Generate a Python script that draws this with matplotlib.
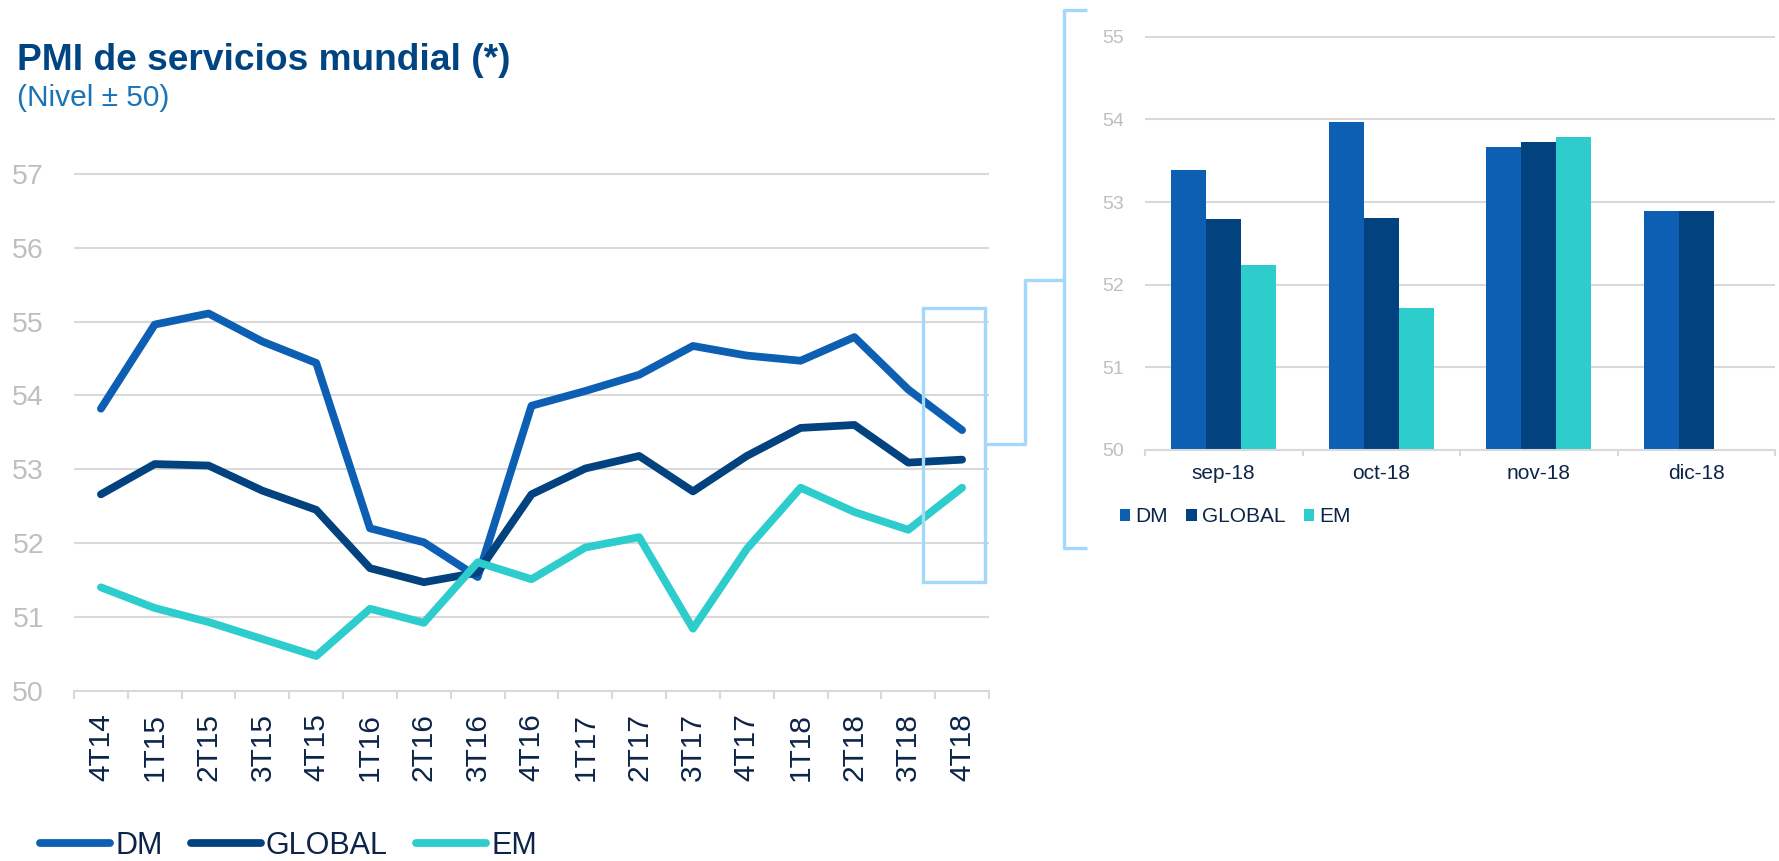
import matplotlib
matplotlib.use("Agg")
import matplotlib.pyplot as plt
import numpy as np
from matplotlib.lines import Line2D
from matplotlib.patches import Rectangle

plt.rcParams['font.family'] = ['Liberation Sans', 'DejaVu Sans']
plt.rcParams['lines.solid_capstyle'] = 'round'

# datos trimestrales (nivel PMI)
trimestres = ['4T14', '1T15', '2T15', '3T15', '4T15', '1T16', '2T16', '3T16', '4T16',
              '1T17', '2T17', '3T17', '4T17', '1T18', '2T18', '3T18', '4T18']
dm = [53.82, 54.96, 55.11, 54.73, 54.44, 52.20, 52.01, 51.54, 53.86,
      54.06, 54.28, 54.67, 54.54, 54.47, 54.79, 54.08, 53.53]
global_ = [52.66, 53.07, 53.05, 52.71, 52.45, 51.66, 51.47, 51.60, 52.66,
           53.01, 53.18, 52.70, 53.18, 53.56, 53.60, 53.09, 53.13]
em = [51.40, 51.12, 50.93, 50.70, 50.47, 51.11, 50.92, 51.74, 51.51,
      51.94, 52.08, 50.84, 51.92, 52.75, 52.42, 52.18, 52.75]

# datos mensuales (detalle)
meses = ['sep-18', 'oct-18', 'nov-18', 'dic-18']
dm_mes = [53.39, 53.97, 53.67, 52.89]
global_mes = [52.80, 52.81, 53.73, 52.89]
em_mes = [52.24, 51.72, 53.79, np.nan]

C_DM = '#0c5fb3'
C_GL = '#02437f'
C_EM = '#2dcccd'
C_GRID = '#d9d9d9'
C_TICK = '#bfbfbf'
C_NAVY = '#0c2448'
C_BRK = '#a3d8fb'

W, H = 1779, 861
fig = plt.figure(figsize=(W / 100, H / 100), dpi=100)


def px(x, y):
    return x / W, 1 - y / H


# ---- grafico de lineas ----
ax = fig.add_axes([74 / W, 1 - 690.7 / H, (989 - 74) / W, (690.7 - 159.2) / H])
x = np.arange(len(trimestres))
for serie, col, lab in [(dm, C_DM, 'DM'), (global_, C_GL, 'GLOBAL'), (em, C_EM, 'EM')]:
    ax.plot(x, serie, color=col, lw=5.6, label=lab, solid_joinstyle='round')
ax.set_xlim(-0.5, len(trimestres) - 0.5)
ax.set_ylim(50, 57.2)
ax.set_yticks(range(50, 58))
ax.yaxis.grid(True, color=C_GRID, lw=1.5)
ax.set_axisbelow(True)
for s in ['top', 'right', 'left']:
    ax.spines[s].set_visible(False)
ax.spines['bottom'].set_color(C_GRID)
ax.spines['bottom'].set_linewidth(1.5)
ax.set_xticks(x)
ax.set_xticklabels(trimestres, rotation=90, fontsize=21.5, color=C_NAVY)
ax.set_xticks(np.arange(-0.5, len(trimestres)), minor=True)
ax.tick_params(axis='x', which='major', length=0, pad=16)
ax.tick_params(axis='x', which='minor', length=6, color=C_GRID, width=1.5)
ax.tick_params(axis='y', length=0, pad=21.5, labelsize=20.5, labelcolor=C_TICK)

leg = ax.legend(loc='center left', bbox_to_anchor=(*px(40, 846),), bbox_transform=fig.transFigure,
                ncol=3, frameon=False, fontsize=22, handlelength=2.3, handletextpad=0.16,
                columnspacing=0.92, borderpad=0, borderaxespad=0)
for t in leg.get_texts():
    t.set_color(C_NAVY)

# ---- grafico de barras ----
bx = fig.add_axes([1145 / W, 1 - 450 / H, 630 / W, (450 - 24.3) / H])
xm = np.arange(len(meses))
w = 0.222
bx.bar(xm - w, np.array(dm_mes) - 50, w, bottom=50, color=C_DM, label='DM')
bx.bar(xm, np.array(global_mes) - 50, w, bottom=50, color=C_GL, label='GLOBAL')
bx.bar(xm + w, np.array(em_mes) - 50, w, bottom=50, color=C_EM, label='EM')
bx.set_xlim(-0.5, len(meses) - 0.5)
bx.set_ylim(50, 55.15)
bx.set_yticks(range(50, 56))
bx.yaxis.grid(True, color=C_GRID, lw=1.5)
bx.set_axisbelow(True)
for s in ['top', 'right', 'left']:
    bx.spines[s].set_visible(False)
bx.spines['bottom'].set_color(C_GRID)
bx.spines['bottom'].set_linewidth(1.5)
bx.set_xticks(xm)
bx.set_xticklabels(meses, fontsize=15, color=C_NAVY)
bx.set_xticks(np.arange(-0.5, len(meses)), minor=True)
bx.tick_params(axis='x', which='major', length=0, pad=10)
bx.tick_params(axis='x', which='minor', length=4.5, color=C_GRID, width=1.5)
bx.tick_params(axis='y', length=0, pad=15, labelsize=14, labelcolor=C_TICK)

leg2 = bx.legend(loc='center left', bbox_to_anchor=(*px(1120, 517),), bbox_transform=fig.transFigure,
                 ncol=3, frameon=False, fontsize=15, handlelength=0.5, handleheight=0.55,
                 handletextpad=0.25, columnspacing=0.87, borderpad=0, borderaxespad=0)
for t in leg2.get_texts():
    t.set_color(C_NAVY)

# ---- titulo ----
fig.text(*px(17, 70), 'PMI de servicios mundial (*)', fontsize=26.7, fontweight='bold',
         color='#004481', ha='left', va='baseline')
fig.text(*px(17, 106), '(Nivel \u00b1 50)', fontsize=21.5, color='#1973b8',
         ha='left', va='baseline')

# ---- recuadro y llave de ampliacion ----
def linea(xs, ys):
    fx = [v / W for v in xs]
    fy = [1 - v / H for v in ys]
    fig.add_artist(Line2D(fx, fy, transform=fig.transFigure, color=C_BRK, lw=2.4,
                          solid_joinstyle='round', solid_capstyle='butt'))

x0, y0 = px(922.7, 581.7)
x1, y1 = px(985, 308)
fig.add_artist(Rectangle((x0, y0), x1 - x0, y1 - y0, transform=fig.transFigure,
                         fill=False, edgecolor=C_BRK, lw=2.4))
linea([985, 1025, 1025, 1064], [444, 444, 280, 280])
linea([1087, 1064, 1064, 1087], [10, 10, 548, 548])

fig.savefig('out.png', dpi=100)
